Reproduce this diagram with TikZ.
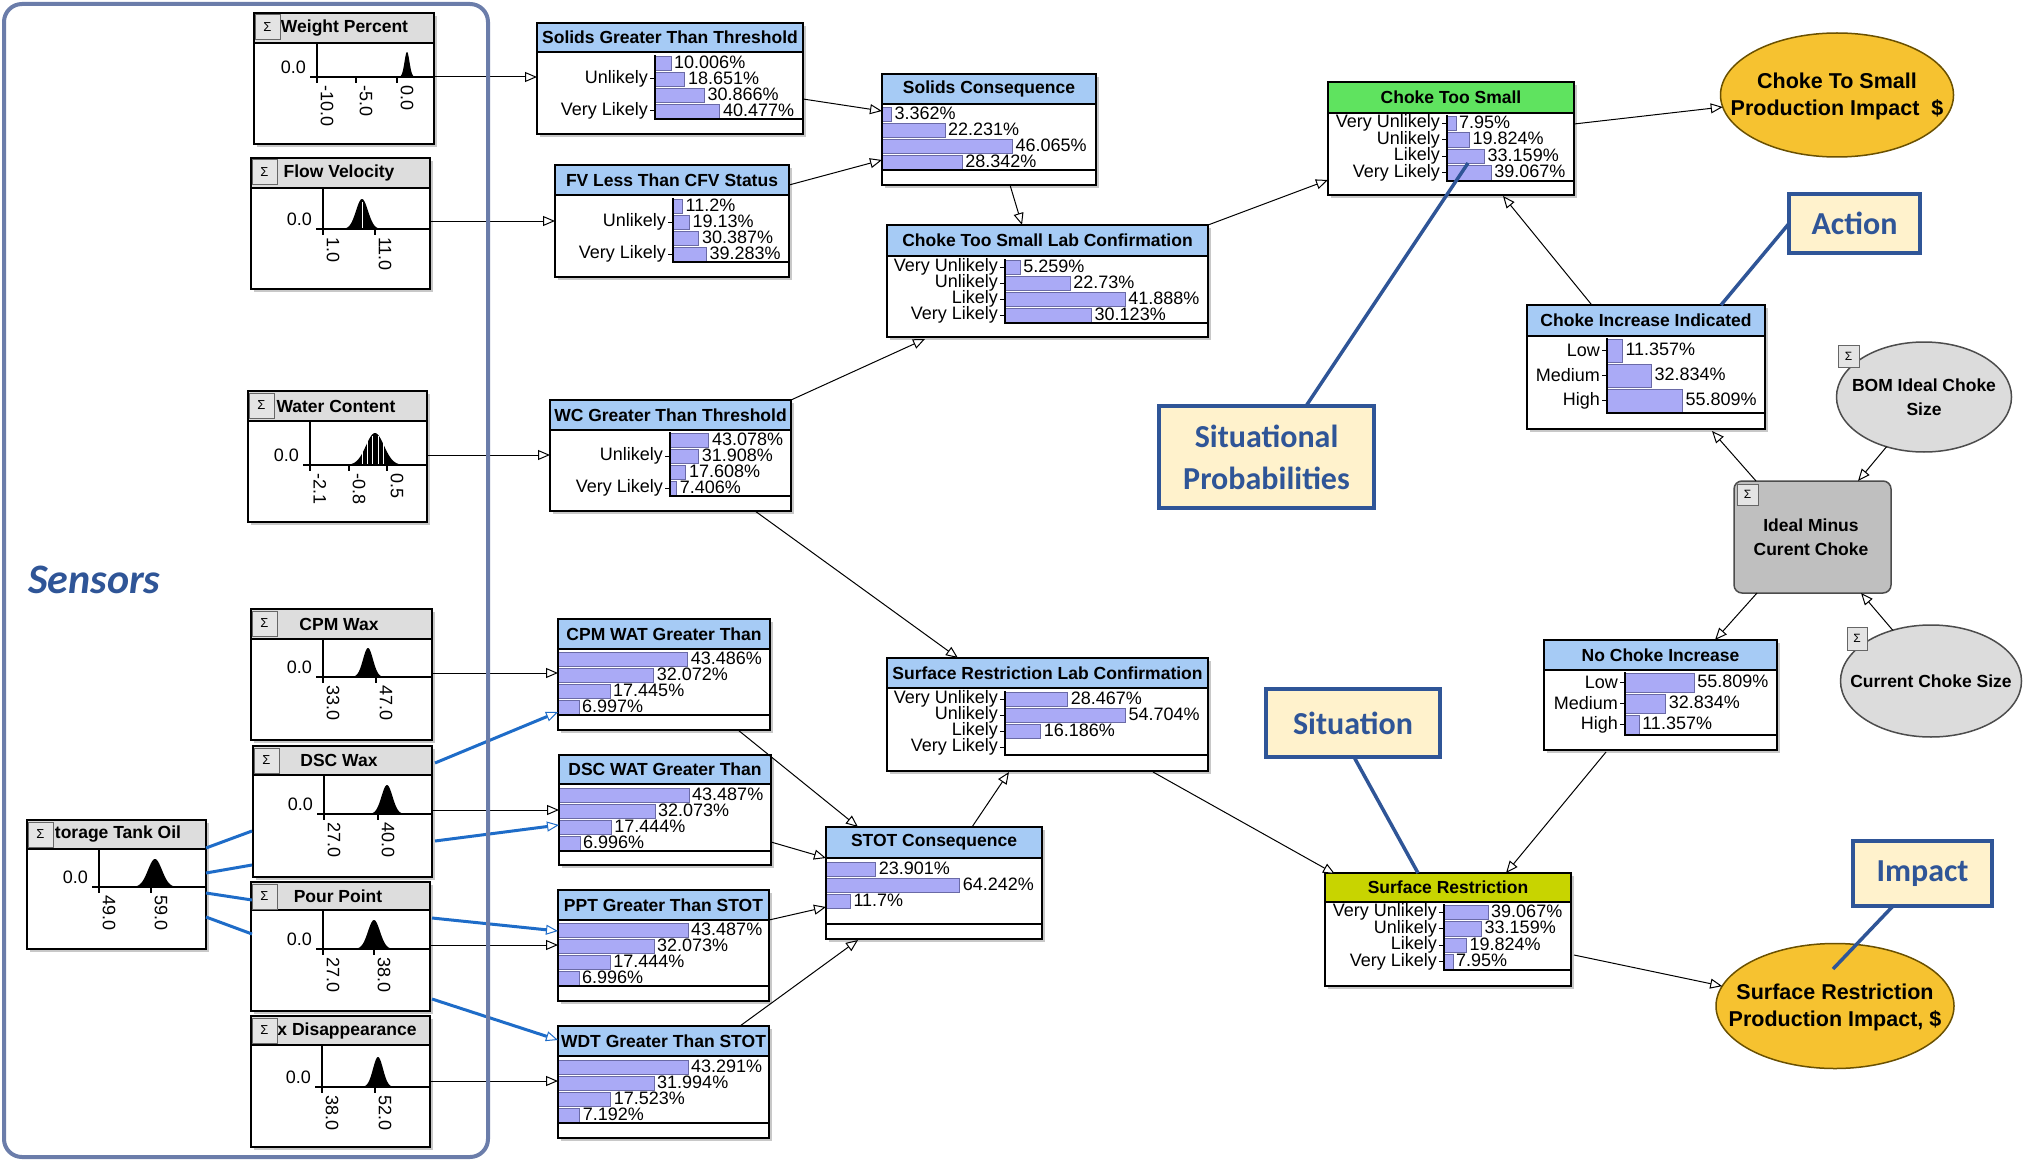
\documentclass[tikz,border=0pt]{standalone}
\usepackage{fontspec}
\setmainfont{Liberation Sans}
\newfontfamily\calloutfont{Carlito}
\usetikzlibrary{arrows.meta,calc,fit,shapes.geometric}
\definecolor{hdrblue}{HTML}{A6CBF5}
\definecolor{hdrgreen}{HTML}{5FE35F}
\definecolor{hdryellow}{HTML}{C8D400}
\definecolor{barfill}{HTML}{AAAAF6}
\definecolor{bardraw}{HTML}{6A6AA6}
\definecolor{sensorhdr}{HTML}{DDDDDD}
\definecolor{shadowcol}{HTML}{C8C8C8}
\definecolor{calloutfill}{HTML}{FFF2CC}
\definecolor{calloutblue}{HTML}{2F5597}
\definecolor{framecol}{HTML}{6B7DAA}
\definecolor{blueline}{HTML}{1E6CC8}
\definecolor{gold}{HTML}{F6C230}
\definecolor{goldborder}{HTML}{6A5000}
\definecolor{grayell}{HTML}{DCDCDC}
\definecolor{grayrect}{HTML}{BFBFBF}
\newcommand\titlefont{\bfseries\fontsize{17.5}{18}\selectfont}
\newcommand\pctfont{\fontsize{18}{18}\selectfont}
\newcommand\ellfont{\bfseries\fontsize{21.5}{27}\selectfont}
\newcommand\gellfont{\bfseries\fontsize{17.5}{24}\selectfont}
\newcommand\callfont{\calloutfont\bfseries\fontsize{32}{42}\selectfont}
\tikzset{
  pbox/.style={draw=black, line width=1.5, fill=white, inner sep=0, outer sep=0},
  ptitle/.style={font=\titlefont, inner sep=0},
  pct/.style={font=\pctfont, anchor=west, inner sep=0},
  lbl/.style={font=\pctfont, anchor=east, inner sep=0},
  barst/.style={fill=barfill, draw=bardraw, line width=0.8},
  axisline/.style={line width=1.2},
  conn/.style={-{Triangle[fill=white, line width=1, length=12pt, width=10pt]}, line width=1},
  bconn/.style={conn, draw=blueline, line width=3},
  bline/.style={draw=blueline, line width=3},
  sigmabox/.style={fill=sensorhdr!80, draw=black!60, line width=1},
  goldell/.style={ellipse, draw=goldborder, fill=gold, line width=1.5, inner sep=0, outer sep=0},
  grayellipse/.style={ellipse, draw=black!70, fill=grayell, line width=1.5, inner sep=0, outer sep=0},
  elltext/.style={font=\ellfont, align=center, inner sep=0},
  gelltext/.style={font=\gellfont, align=center, inner sep=0},
  callbox/.style={draw=calloutblue, fill=calloutfill, line width=3.5, inner sep=0, outer sep=0},
  calltext/.style={font=\callfont, text=calloutblue, align=center, inner sep=0},
  callline/.style={draw=calloutblue, line width=3.5},
}
% sensor box: name x1 y1 x2 y2 hdr title titlecx
\newcommand\sensorbox[8]{%
  \fill[shadowcol] (#2+3,#3+3) rectangle (#4+3,#5+3);
  \node[pbox, fit={(#2,#3)(#4,#5)}] (#1) {};
  \fill[sensorhdr] (#2,#3) rectangle (#4,#6);
  \node[ptitle] at (#8,{(#3+#6)/2}) {#7};
  \draw[line width=1.5] (#2,#6) -- (#4,#6);
  \draw[sigmabox] (#2+1,#3+2) rectangle (#2+26,#3+27);
  \node[font=\fontsize{13}{13}\selectfont, inner sep=0] at (#2+13.5,#3+14.5) {Σ};
  \draw[line width=1.5] (#1.north west) rectangle (#1.south east);
}
% sensor plot axes: axisx axisy hdr x2
\newcommand\splot[4]{%
  \draw[axisline] (#1,#3) -- (#1,#2+5);
  \draw[axisline] (#1-7,#2) -- (#4,#2);
  \node[font=\pctfont, anchor=east, inner sep=0] at (#1-11,#2-10) {0.0};
}
\newcommand\stick[3]{%
  \draw[axisline] (#1,#2) -- (#1,#2+6);
  \node[rotate=-90, anchor=west, inner sep=0, font=\pctfont] at (#1+10,#2+8) {#3};
}
\newcommand\bell[4]{%
  \pgfmathsetmacro\bellA{#1-3.2*#4}%
  \pgfmathsetmacro\bellB{#1+3.2*#4}%
  \fill plot[domain=\bellA:\bellB, samples=50] (\x,{#2-#3*exp(-((\x-#1)*(\x-#1))/(2*#4*#4))}) -- cycle;
}
% probability box: name x1 y1 x2 y2 hdr colour title
\newcommand\probbox[8]{%
  \fill[shadowcol] (#2+3,#3+3) rectangle (#4+3,#5+3);
  \node[pbox, fit={(#2,#3)(#4,#5)}] (#1) {};
  \fill[#7] (#2,#3) rectangle (#4,#6);
  \draw[line width=1.5] (#2,#6) -- (#4,#6);
  \node[ptitle] at ({(#2+#4)/2},{(#3+#6)/2}) {#8};
  \draw[line width=1.5] (#1.north west) rectangle (#1.south east);
}
\newcommand\baraxis[4]{\draw[axisline] (#1,#2) -- (#1,#3) -- (#4,#3);}
\newcommand\brow[5]{%
  \draw[barst] (#1,#2+1) rectangle (#1+#4,#2+#3-1);
  \node[pct] at (#1+#4+3,{#2+#3/2-1}) {#5};
}
\newcommand\blab[4]{%
  \draw[line width=1] (#1-5,{#2+#3/2}) -- (#1,{#2+#3/2});
  \node[lbl] at (#1-7,{#2+#3/2}) {#4};
}
\begin{document}
\begin{tikzpicture}[x=1pt, y=-1pt]
\useasboundingbox (0,0) rectangle (2023,1161);
\fill[white] (0,0) rectangle (2023,1161);

% ---------------- sensors ----------------
\sensorbox{wp}{254}{13}{434}{144}{43}{Weight Percent}{344.5}
\splot{317}{77}{43}{434}
\bell{407}{77}{25}{2.5}
\stick{317}{77}{-10.0}\stick{356}{77}{-5.0}\stick{397}{77}{0.0}

\sensorbox{fvel}{251}{158}{430}{289}{188}{Flow Velocity}{339}
\splot{323}{229}{188}{430}
\bell{362}{229}{30}{6}
\draw[white, line width=1] (362,228) -- (362,202);
\stick{323}{229}{1.0}\stick{375}{229}{11.0}

\sensorbox{wcs}{248}{391}{427}{522}{421}{Water Content}{336}
\splot{310}{465}{421}{427}
\bell{375}{465}{32}{9}
\foreach \hx in {362,367,372,378,383} \draw[white, line width=0.8] (\hx,464) -- (\hx,436);
\stick{310}{465}{-2.1}\stick{349}{465}{-0.8}\stick{387}{465}{0.5}

\sensorbox{cpmw}{251}{609}{432}{740}{639}{CPM Wax}{339}
\splot{323}{677}{639}{432}
\bell{368}{677}{29}{5}
\stick{323}{677}{33.0}\stick{376}{677}{47.0}

\sensorbox{dscw}{253}{746}{432}{877}{775}{DSC Wax}{339}
\splot{324}{814}{775}{432}
\bell{387}{814}{29}{5.5}
\stick{324}{814}{27.0}\stick{378}{814}{40.0}

\sensorbox{pour}{251}{882}{430}{1011}{910}{Pour Point}{338}
\splot{323}{949}{910}{430}
\bell{374}{949}{29}{6}
\stick{323}{949}{27.0}\stick{374}{949}{38.0}

\sensorbox{waxd}{251}{1016}{430}{1147}{1045}{x Disappearance}{347}
\splot{322}{1087}{1045}{430}
\bell{378}{1087}{30}{5}
\stick{322}{1087}{38.0}\stick{375}{1087}{52.0}

\sensorbox{stor}{27}{820}{206}{949}{849}{torage Tank Oil}{118}
\splot{99}{887}{849}{206}
\bell{155}{887}{28}{7}
\stick{99}{887}{49.0}\stick{151}{887}{59.0}

\node[font=\calloutfont\bfseries\itshape\fontsize{42}{42}\selectfont, text=calloutblue, anchor=base west, inner sep=0] (sens) at (28,593) {Sensors};

% ---------------- probability nodes ----------------
\probbox{sgt}{537}{23}{803}{134}{52}{hdrblue}{Solids Greater Than Threshold}
\brow{655}{55}{16}{16}{10.006\%}\brow{655}{71}{16}{29.8}{18.651\%}
\brow{655}{87}{16}{49.4}{30.866\%}\brow{655}{103}{16}{64.8}{40.477\%}
\blab{655}{71}{16}{Unlikely}\blab{655}{103}{16}{Very Likely}
\baraxis{655}{55}{119}{803}

\probbox{sc}{882}{74}{1096}{185}{104}{hdrblue}{Solids Consequence}
\brow{882}{106}{16}{9.5}{3.362\%}\brow{882}{122}{16}{62.9}{22.231\%}
\brow{882}{138}{16}{130.4}{46.065\%}\brow{882}{154}{16}{80.2}{28.342\%}
\baraxis{882}{106}{170}{1096}

\probbox{fvl}{555}{165}{789}{277}{195}{hdrblue}{FV Less Than CFV Status}
\brow{673}{198}{16}{9.5}{11.2\%}\brow{673}{214}{16}{16.3}{19.13\%}
\brow{673}{230}{16}{25.8}{30.387\%}\brow{673}{246}{16}{33.4}{39.283\%}
\blab{673}{214}{16}{Unlikely}\blab{673}{246}{16}{Very Likely}
\baraxis{673}{198}{262}{789}

\probbox{cls}{887}{225}{1208}{337}{256}{hdrblue}{Choke Too Small Lab Confirmation}
\brow{1005}{259}{16}{15.1}{5.259\%}\brow{1005}{275}{16}{65.2}{22.73\%}
\brow{1005}{291}{16}{120.2}{41.888\%}\brow{1005}{307}{16}{86.5}{30.123\%}
\blab{1005}{259}{16}{Very Unlikely}\blab{1005}{275}{16}{Unlikely}
\blab{1005}{291}{16}{Likely}\blab{1005}{307}{16}{Very Likely}
\baraxis{1005}{259}{323}{1208}

\probbox{wcg}{550}{400}{791}{511}{430}{hdrblue}{WC Greater Than Threshold}
\brow{670}{432}{16}{38.8}{43.078\%}\brow{670}{448}{16}{28.7}{31.908\%}
\brow{670}{464}{16}{15.8}{17.608\%}\brow{670}{480}{16}{6.7}{7.406\%}
\blab{670}{448}{16}{Unlikely}\blab{670}{480}{16}{Very Likely}
\baraxis{670}{432}{496}{791}

\probbox{cpmt}{558}{619}{770}{730}{649}{hdrblue}{CPM WAT Greater Than}
\brow{558}{651}{16}{129.6}{43.486\%}\brow{558}{667}{16}{95.6}{32.072\%}
\brow{558}{683}{16}{52}{17.445\%}\brow{558}{699}{16}{20.9}{6.997\%}
\baraxis{558}{651}{715}{770}

\probbox{srl}{887}{658}{1208}{771}{688}{hdrblue}{Surface Restriction Lab Confirmation}
\brow{1005}{691}{16}{62.6}{28.467\%}\brow{1005}{707}{16}{120.3}{54.704\%}
\brow{1005}{723}{16}{35.6}{16.186\%}
\blab{1005}{691}{16}{Very Unlikely}\blab{1005}{707}{16}{Unlikely}
\blab{1005}{723}{16}{Likely}\blab{1005}{739}{16}{Very Likely}
\baraxis{1005}{691}{755}{1208}

\probbox{dsct}{559}{755}{771}{865}{784}{hdrblue}{DSC WAT Greater Than}
\brow{559}{787}{16}{130}{43.487\%}\brow{559}{803}{16}{95.9}{32.073\%}
\brow{559}{819}{16}{52.2}{17.444\%}\brow{559}{835}{16}{20.9}{6.996\%}
\baraxis{559}{787}{851}{771}

\probbox{pptn}{558}{890}{769}{1001}{920}{hdrblue}{PPT Greater Than STOT}
\brow{558}{922}{16}{130}{43.487\%}\brow{558}{938}{16}{95.9}{32.073\%}
\brow{558}{954}{16}{52.2}{17.444\%}\brow{558}{970}{16}{20.9}{6.996\%}
\baraxis{558}{922}{986}{769}

\probbox{wdtn}{558}{1026}{769}{1138}{1056}{hdrblue}{WDT Greater Than STOT}
\brow{558}{1059}{16}{129.9}{43.291\%}\brow{558}{1075}{16}{96}{31.994\%}
\brow{558}{1091}{16}{52.6}{17.523\%}\brow{558}{1107}{16}{21.6}{7.192\%}
\baraxis{558}{1059}{1123}{769}

\probbox{stot}{826}{827}{1042}{939}{858}{hdrblue}{STOT Consequence}
\brow{826}{861}{16}{49.7}{23.901\%}\brow{826}{877}{16}{133.6}{64.242\%}
\brow{826}{893}{16}{24.3}{11.7\%}
\baraxis{826}{861}{924}{1042}

\probbox{cts}{1328}{82}{1574}{195}{113}{hdrgreen}{Choke Too Small}
\brow{1447}{115}{16.5}{9}{7.95\%}\brow{1447}{131.5}{16.5}{22.4}{19.824\%}
\brow{1447}{148}{16.5}{37.5}{33.159\%}\brow{1447}{164.5}{16.5}{44.1}{39.067\%}
\blab{1447}{115}{16.5}{Very Unlikely}\blab{1447}{131.5}{16.5}{Unlikely}
\blab{1447}{148}{16.5}{Likely}\blab{1447}{164.5}{16.5}{Very Likely}
\baraxis{1447}{115}{181}{1574}

\probbox{cii}{1527}{305}{1765}{429}{336}{hdrblue}{Choke Increase Indicated}
\brow{1607}{338}{25}{15.3}{11.357\%}\brow{1607}{363}{25}{44.3}{32.834\%}
\brow{1607}{388}{25}{75.3}{55.809\%}
\blab{1607}{338}{25}{Low}\blab{1607}{363}{25}{Medium}\blab{1607}{388}{25}{High}
\baraxis{1607}{338}{413}{1765}

\probbox{nci}{1544}{640}{1777}{750}{670}{hdrblue}{No Choke Increase}
\brow{1625}{672}{21}{69.2}{55.809\%}\brow{1625}{693}{21}{40.7}{32.834\%}
\brow{1625}{714}{21}{14.1}{11.357\%}
\blab{1625}{672}{21}{Low}\blab{1625}{693}{21}{Medium}\blab{1625}{714}{21}{High}
\baraxis{1625}{672}{735}{1777}

\probbox{srn}{1325}{873}{1571}{986}{902}{hdryellow}{Surface Restriction}
\brow{1444}{904}{16.5}{44}{39.067\%}\brow{1444}{920.5}{16.5}{37.5}{33.159\%}
\brow{1444}{937}{16.5}{22.4}{19.824\%}\brow{1444}{953.5}{16.5}{9}{7.95\%}
\blab{1444}{904}{16.5}{Very Unlikely}\blab{1444}{920.5}{16.5}{Unlikely}
\blab{1444}{937}{16.5}{Likely}\blab{1444}{953.5}{16.5}{Very Likely}
\baraxis{1444}{904}{970}{1571}

% ---------------- ellipses & decision ----------------
\node[goldell, minimum width=233, minimum height=124] (ctsi) at (1837,95) {};
\node[elltext] at (1837,96) {Choke To Small\\Production Impact\ \ \$};
\node[goldell, minimum width=238, minimum height=125] (srpi) at (1835,1006) {};
\node[elltext] at (1835,1007) {Surface Restriction\\Production Impact, \$};
\node[grayellipse, minimum width=175, minimum height=110] (bom) at (1924,397) {};
\node[gelltext] at (1924,397) {BOM Ideal Choke\\Size};
\node[grayellipse, minimum width=181, minimum height=112] (ccs) at (1931,681) {};
\node[gelltext] at (1931,681) {Current Choke Size};
\node[draw=black!70, fill=grayrect, rounded corners=8, line width=1.5, fit={(1734,481)(1891,593)}, inner sep=0, outer sep=0] (imc) {};
\node[gelltext] (imct) at (1811,537) {Ideal Minus\\Curent Choke};
\draw[sigmabox] (1838,345) rectangle (1859,367);
\node[font=\fontsize{12}{12}\selectfont, inner sep=0] at (1848.5,356) {Σ};
\draw[sigmabox] (1847,627) rectangle (1867,650);
\node[font=\fontsize{12}{12}\selectfont, inner sep=0] at (1857,638.5) {Σ};
\draw[sigmabox] (1737,484) rectangle (1758,505);
\node[font=\fontsize{12}{12}\selectfont, inner sep=0] at (1747.5,494.5) {Σ};

% ---------------- connectors ----------------
\draw[conn] ($(wp.north east)+(0,64)$) -- ($(sgt.north west)+(0,54)$);
\draw[conn] ($(fvel.north east)+(0,63)$) -- ($(fvl.north west)+(0,56)$);
\draw[conn] ($(wcs.north east)+(0,64)$) -- ($(wcg.north west)+(0,55)$);
\draw[conn] ($(cpmw.north east)+(0,64)$) -- ($(cpmt.north west)+(0,54)$);
\draw[bconn] ($(dscw.north east)+(3,17)$) -- ($(cpmt.south west)+(0,-18)$);
\draw[conn] ($(dscw.north east)+(0,64)$) -- ($(dsct.north west)+(0,55)$);
\draw[bconn] ($(dscw.north east)+(3,95)$) -- ($(dsct.north west)+(0,70)$);
\draw[bconn] ($(pour.north east)+(2,36)$) -- ($(pptn.north west)+(0,41)$);
\draw[conn] ($(pour.north east)+(0,63)$) -- ($(pptn.north west)+(0,55)$);
\draw[bconn] ($(pour.north east)+(2,117)$) -- ($(wdtn.north west)+(0,14)$);
\draw[conn] ($(waxd.north east)+(0,65)$) -- ($(wdtn.north west)+(0,55)$);
\draw[bline] ($(stor.north east)+(0,28)$) -- ($(dscw.north west)+(-1,85)$);
\draw[bline] ($(stor.north east)+(0,53)$) -- ($(dscw.north west)+(-1,119)$);
\draw[bline] ($(stor.north east)+(0,73)$) -- ($(pour.north west)+(1,18)$);
\draw[bline] ($(stor.north east)+(0,97)$) -- ($(pour.north west)+(1,52)$);

\draw[conn] ($(sgt.north east)+(0,76)$) -- ($(sc.north west)+(0,37)$);
\draw[conn] ($(fvl.north east)+(0,20)$) -- ($(sc.north west)+(0,86)$);
\draw[conn] ($(sc.south west)+(128,0)$) -- ($(cls.north west)+(135,0)$);
\draw[conn] (wcg.north east) -- ($(cls.south west)+(38,2)$);
\draw[conn] ($(wcg.south west)+(205,0)$) -- ($(srl.north west)+(71,0)$);
\draw[conn] (cls.north east) -- ($(cts.south west)+(0,-15)$);
\draw[conn] ($(cts.north east)+(0,42)$) -- (ctsi.186);
\draw[conn] ($(cii.north west)+(64,-1)$) -- ($(cts.south west)+(175,1)$);
\draw[conn] ($(imc.north west)+(22,0)$) -- ($(cii.south west)+(185,2)$);
\draw[conn] (bom.233) -- ($(imc.north east)+(-33,0)$);
\draw[conn] (ccs.127) -- ($(imc.south east)+(-30,0)$);
\draw[conn] ($(imc.south west)+(23,0)$) -- ($(nci.north west)+(171,0)$);
\draw[conn] ($(srl.south west)+(266,1)$) -- ($(srn.north west)+(10,1)$);
\draw[conn] ($(nci.south west)+(62,2)$) -- ($(srn.north west)+(181,0)$);
\draw[conn] ($(srn.north east)+(3,82)$) -- (srpi.170);
\draw[conn] ($(cpmt.south west)+(180,0)$) -- ($(stot.north west)+(32,0)$);
\draw[conn] ($(dsct.north east)+(0,87)$) -- ($(stot.north west)+(0,31)$);
\draw[conn] ($(pptn.north east)+(0,30)$) -- ($(stot.north west)+(0,80)$);
\draw[conn] ($(wdtn.north east)+(-29,0)$) -- ($(stot.south west)+(32,1)$);
\draw[conn] ($(stot.north west)+(146,0)$) -- ($(srl.south west)+(122,1)$);

% ---------------- callouts ----------------
\node[callbox, fit={(1159,406)(1374,508)}] (cSP) {};
\node[calltext] at (cSP.center) {Situational\\Probabilities};
\node[callbox, fit={(1789,194)(1920,253)}] (cAct) {};
\node[calltext] at (cAct.center) {Action};
\node[callbox, fit={(1266,689)(1440,757)}] (cSit) {};
\node[calltext] at (cSit.center) {Situation};
\node[callbox, fit={(1853,841)(1992,906)}] (cImp) {};
\node[calltext] at (cImp.center) {Impact};
\coordinate (spt) at (1468,163);
\coordinate (impt) at (1833,969);
\draw[callline] ($(cSP.north west)+(147,0)$) -- (spt);
\draw[callline] (cAct.west) -- ($(cii.north west)+(194,0)$);
\draw[callline] ($(cSit.south west)+(88,0)$) -- ($(srn.north west)+(93,0)$);
\draw[callline] ($(cImp.south west)+(40,0)$) -- (impt);

% ---------------- sensors frame ----------------
\draw[framecol, line width=4, rounded corners=18] (4,4) rectangle (488,1157);
\end{tikzpicture}
\end{document}
